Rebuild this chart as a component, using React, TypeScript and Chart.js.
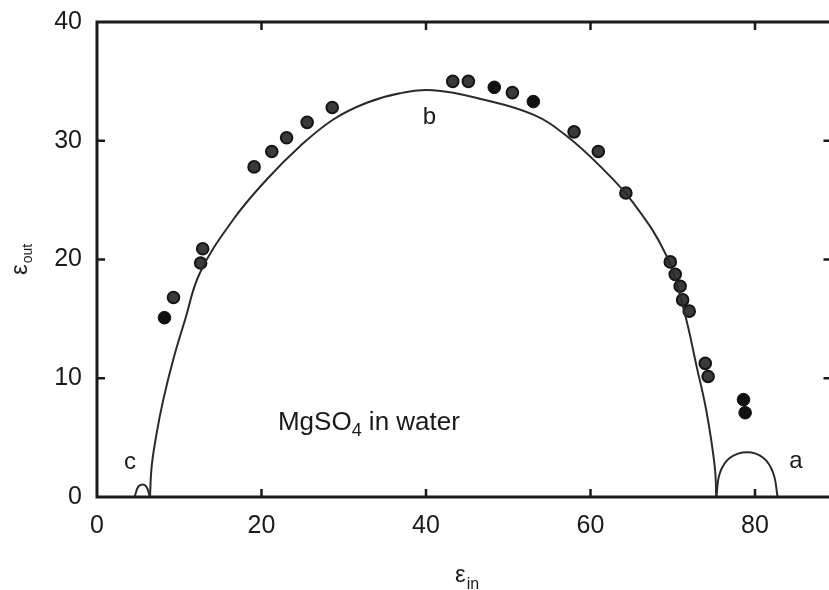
import React, { useEffect, useRef } from "react";
import { Chart, registerables } from "chart.js";

Chart.register(...registerables);

const FONT = "'Liberation Sans', Arial, Helvetica, sans-serif";

// Axis ticks
const xTicks = [0, 20, 40, 60, 80];
const yTicks = [0, 10, 20, 30, 40];
const xInnerTicks = [20, 40, 60, 80];
const yInnerTicks = [10, 20, 30];
const xMin = 0;
const xMax = 89.3;
const yMin = 0;
const yMax = 40;

// Measured points (solid black)
const solidX = [8.2, 48.3, 53.05, 78.6, 78.8];
const solidY = [15.1, 34.5, 33.3, 8.2, 7.1];

// Measured points (ringed)
const ringX = [9.3, 12.6, 12.85, 19.1, 21.25, 23.05, 25.55, 28.6, 43.25, 45.15, 50.5, 58.0, 60.95, 64.3, 69.7, 70.3, 70.9, 71.2, 72.0, 73.95, 74.3];
const ringY = [16.8, 19.7, 20.9, 27.8, 29.1, 30.25, 31.55, 32.8, 35.0, 35.0, 34.05, 30.75, 29.1, 25.6, 19.8, 18.75, 17.75, 16.6, 15.65, 11.25, 10.15];

// Curve b
const curveBX = [6.44, 6.65, 7.26, 8.06, 9.28, 10.7, 12.52, 16.57, 20.63, 24.68, 28.73, 32.8, 36.84, 40.9, 46.97, 53.05, 57.1, 61.16, 65.2, 69.26, 71.4, 72.9, 74.1, 75.1, 75.3];
const curveBY = [0, 2.6, 5.4, 8.2, 11.6, 14.9, 18.88, 23.37, 26.74, 29.54, 31.79, 33.2, 34.0, 34.25, 33.47, 32.2, 30.4, 27.86, 24.77, 20.28, 15.6, 11.0, 7.2, 2.6, 0];

// Curve a
const curveAX = [75.3, 75.74, 76.96, 79.06, 81.0, 82.2, 82.75];
const curveAY = [0, 2.04, 3.3, 3.77, 3.3, 2.04, 0];

// Curve c
const curveCX = [4.58, 5.0, 5.55, 6.03, 6.44];
const curveCY = [0, 0.85, 1.05, 0.85, 0];

// Curve labels
const labelText = ["a", "b", "c"];
const labelX = [84.17, 39.6, 3.28];
const labelY = [2.46, 31.37, 2.32];

// Note text anchor (data coordinates)
const noteX = 22.0;
const noteY = 5.68;

const zip = (xs: number[], ys: number[]) => xs.map((x, i) => ({ x, y: ys[i] }));

const framePlugin = {
  id: "frameAndText",
  afterDatasetsDraw(chart: any) {
    const { ctx, chartArea } = chart;
    const { left, right, top, bottom } = chartArea;
    const xs = chart.scales.x;
    const ys = chart.scales.y;
    ctx.save();
    ctx.strokeStyle = "#1a1a1a";
    ctx.lineWidth = 3;
    ctx.strokeRect(left, top, right - left, bottom - top);
    ctx.lineWidth = 2.5;
    const tl = 8;
    ctx.beginPath();
    xInnerTicks.forEach((v) => {
      const px = xs.getPixelForValue(v);
      ctx.moveTo(px, bottom);
      ctx.lineTo(px, bottom - tl);
      ctx.moveTo(px, top);
      ctx.lineTo(px, top + tl);
    });
    yInnerTicks.forEach((v) => {
      const py = ys.getPixelForValue(v);
      ctx.moveTo(left, py);
      ctx.lineTo(left + tl, py);
      ctx.moveTo(right, py);
      ctx.lineTo(right - tl, py);
    });
    ctx.stroke();

    ctx.fillStyle = "#1a1a1a";
    ctx.textAlign = "left";
    ctx.textBaseline = "alphabetic";
    ctx.font = `24px ${FONT}`;
    labelText.forEach((t, i) => {
      ctx.fillText(t, xs.getPixelForValue(labelX[i]), ys.getPixelForValue(labelY[i]));
    });

    let px = xs.getPixelForValue(noteX);
    const py = ys.getPixelForValue(noteY);
    ctx.font = `26px ${FONT}`;
    ctx.fillText("MgSO", px, py);
    px += ctx.measureText("MgSO").width;
    ctx.font = `18px ${FONT}`;
    ctx.fillText("4", px, py + 6);
    px += ctx.measureText("4").width;
    ctx.font = `26px ${FONT}`;
    ctx.fillText(" in water", px, py);

    // x-axis title: ε_in
    ctx.font = `24px ${FONT}`;
    ctx.fillText("ε", 455, 582);
    const we = ctx.measureText("ε").width;
    ctx.font = `16px ${FONT}`;
    ctx.fillText("in", 455 + we + 1, 589);

    // y-axis title: ε_out (rotated)
    ctx.translate(27, 275);
    ctx.rotate(-Math.PI / 2);
    ctx.font = `24px ${FONT}`;
    ctx.fillText("ε", 0, 0);
    const we2 = ctx.measureText("ε").width;
    ctx.font = `14px ${FONT}`;
    ctx.fillText("out", we2 + 1, 5);
    ctx.restore();
  },
};

export default function App() {
  const ref = useRef<HTMLCanvasElement | null>(null);

  useEffect(() => {
    if (!ref.current) return;
    const tickFont = { family: FONT, size: 25 };
    const curveStyle = {
      showLine: true,
      pointRadius: 0,
      borderColor: "#2a2a2a",
      borderWidth: 2,
      tension: 0.4,
    };
    const chart = new Chart(ref.current, {
      type: "scatter",
      data: {
        datasets: [
          { data: zip(curveBX, curveBY), ...curveStyle },
          { data: zip(curveAX, curveAY), ...curveStyle },
          { data: zip(curveCX, curveCY), ...curveStyle },
          {
            data: zip(ringX, ringY),
            pointRadius: 5.8,
            pointBackgroundColor: "#3a3a3a",
            pointBorderColor: "#151515",
            pointBorderWidth: 2,
          },
          {
            data: zip(solidX, solidY),
            pointRadius: 6.3,
            pointBackgroundColor: "#111111",
            pointBorderColor: "#111111",
            pointBorderWidth: 1,
          },
        ],
      } as any,
      options: {
        responsive: false,
        animation: false,
        devicePixelRatio: 1,
        layout: { padding: { top: 22, right: 28.5, left: 0, bottom: 0 } },
        plugins: { legend: { display: false }, tooltip: { enabled: false } },
        scales: {
          x: {
            type: "linear",
            min: xMin,
            max: xMax,
            afterBuildTicks: (s: any) => {
              s.ticks = xTicks.map((v) => ({ value: v }));
            },
            afterFit: (s: any) => {
              s.height = 93;
              s.paddingLeft = 0;
              s.paddingRight = 0;
            },
            grid: { display: false, drawTicks: false },
            border: { display: false },
            ticks: { font: tickFont, color: "#1a1a1a", padding: 14, maxRotation: 0, autoSkip: false },
          },
          y: {
            type: "linear",
            min: yMin,
            max: yMax,
            afterBuildTicks: (s: any) => {
              s.ticks = yTicks.map((v) => ({ value: v }));
            },
            afterFit: (s: any) => {
              s.width = 97;
              s.paddingTop = 0;
              s.paddingBottom = 0;
            },
            grid: { display: false, drawTicks: false },
            border: { display: false },
            ticks: { font: tickFont, color: "#1a1a1a", padding: 15, autoSkip: false },
          },
        },
      } as any,
      plugins: [framePlugin],
    });
    return () => chart.destroy();
  }, []);

  return (
    <div
      style={{
        position: "fixed",
        left: 0,
        top: 0,
        width: 829,
        height: 590,
        overflow: "hidden",
        background: "#fff",
      }}
    >
      <canvas ref={ref} width={860} height={590} style={{ display: "block", width: 860, height: 590 }} />
    </div>
  );
}
